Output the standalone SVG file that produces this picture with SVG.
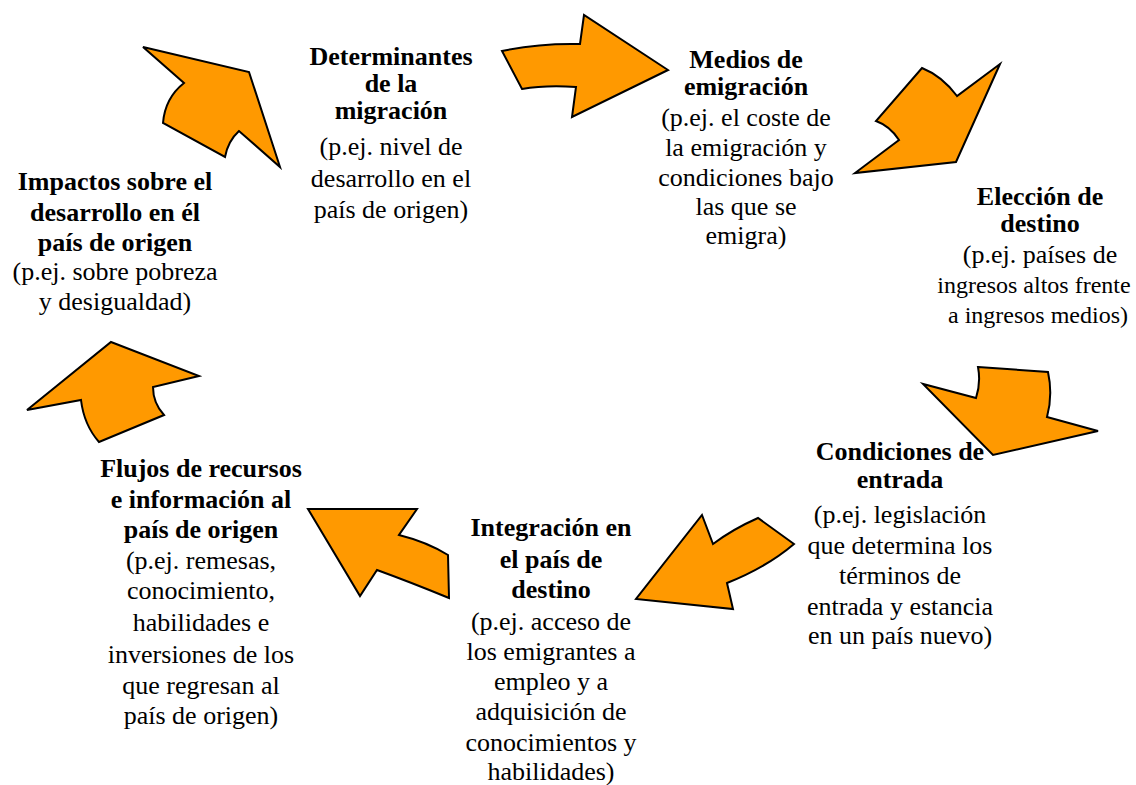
<svg xmlns="http://www.w3.org/2000/svg" width="1136" height="785" viewBox="0 0 1136 785">
<style>
.arr{fill:#FF9900;stroke:#000;stroke-width:2;stroke-linejoin:miter}
.t{font-size:26px;fill:#000;text-anchor:middle}
.b{font-weight:bold}
.s{font-size:24px}
</style>
<rect width="1136" height="785" fill="#fff"/>
<g id="connectors">
<path class="arr" d="M143,47 L249,72 L280,167 L239,131 Q228,141 225,157 L163,123 Q165,98 184,83 Z"/>
<path class="arr" d="M502,51 Q540,43 580,44 L584,15 L668,70 L572,117 L576,87 Q545,85 522,89 Z"/>
<path class="arr" d="M922,68 Q942,76 957,96 L1000,64 L956,162 L855,173 L899,140 Q890,126 876,121 Z"/>
<path class="arr" d="M978,367 L1048,372 Q1053,395 1047,417 L1098,431 L993,455 L923,384 L976,398 Q981,383 978,367 Z"/>
<path class="arr" d="M702,515 L713,544 Q733,529 758,518 L794,544 Q767,567 727,583 L733,609 L636,599 Z"/>
<path class="arr" d="M308,509 L417,509 L399,535 Q427,542 448,555 L449,598 Q410,582 377,570 L360,596 Z"/>
<path class="arr" d="M111,342 L199,376 L153,387 Q153,403 164,415 L99,442 Q84,425 81,400 L27,410 Z"/>
</g>
<g class="t" font-family="'Liberation Serif', 'Times New Roman', 'DejaVu Serif', serif">
<g id="n1">
<text x="391" y="65" class="b">Determinantes</text>
<text x="391" y="92" class="b">de la</text>
<text x="391" y="119" class="b">migración</text>
<text x="391" y="155">(p.ej. nivel de</text>
<text x="391" y="187">desarrollo en el</text>
<text x="391" y="218">país de origen)</text>
</g>
<g id="n2">
<text x="746" y="68" class="b">Medios de</text>
<text x="746" y="95" class="b">emigración</text>
<text x="746" y="126">(p.ej. el coste de</text>
<text x="746" y="156">la emigración y</text>
<text x="746" y="186">condiciones bajo</text>
<text x="746" y="215">las que se</text>
<text x="746" y="244">emigra)</text>
</g>
<g id="n3">
<text x="1040" y="205" class="b">Elección de</text>
<text x="1040" y="232" class="b">destino</text>
<text x="1040" y="263">(p.ej. países de</text>
<text x="1034" y="293" class="s">ingresos altos frente</text>
<text x="1038" y="323" class="s">a ingresos medios)</text>
</g>
<g id="n4">
<text x="900" y="460" class="b">Condiciones de</text>
<text x="900" y="488" class="b">entrada</text>
<text x="900" y="523">(p.ej. legislación</text>
<text x="900" y="554">que determina los</text>
<text x="900" y="584">términos de</text>
<text x="900" y="615">entrada y estancia</text>
<text x="900" y="644">en un país nuevo)</text>
</g>
<g id="n5">
<text x="551" y="536" class="b">Integración en</text>
<text x="551" y="568" class="b">el país de</text>
<text x="551" y="598" class="b">destino</text>
<text x="551" y="630">(p.ej. acceso de</text>
<text x="551" y="660">los emigrantes a</text>
<text x="551" y="690">empleo y a</text>
<text x="551" y="720">adquisición de</text>
<text x="551" y="751">conocimientos y</text>
<text x="551" y="780">habilidades)</text>
</g>
<g id="n6">
<text x="201" y="477" class="b">Flujos de recursos</text>
<text x="201" y="508" class="b">e información al</text>
<text x="201" y="538" class="b">país de origen</text>
<text x="201" y="569">(p.ej. remesas,</text>
<text x="201" y="599">conocimiento,</text>
<text x="201" y="631">habilidades e</text>
<text x="201" y="663">inversiones de los</text>
<text x="201" y="694">que regresan al</text>
<text x="201" y="724">país de origen)</text>
</g>
<g id="n7">
<text x="115" y="190" class="b">Impactos sobre el</text>
<text x="115" y="221" class="b">desarrollo en él</text>
<text x="115" y="251" class="b">país de origen</text>
<text x="115" y="280">(p.ej. sobre pobreza</text>
<text x="115" y="310">y desigualdad)</text>
</g>
</g>
</svg>
